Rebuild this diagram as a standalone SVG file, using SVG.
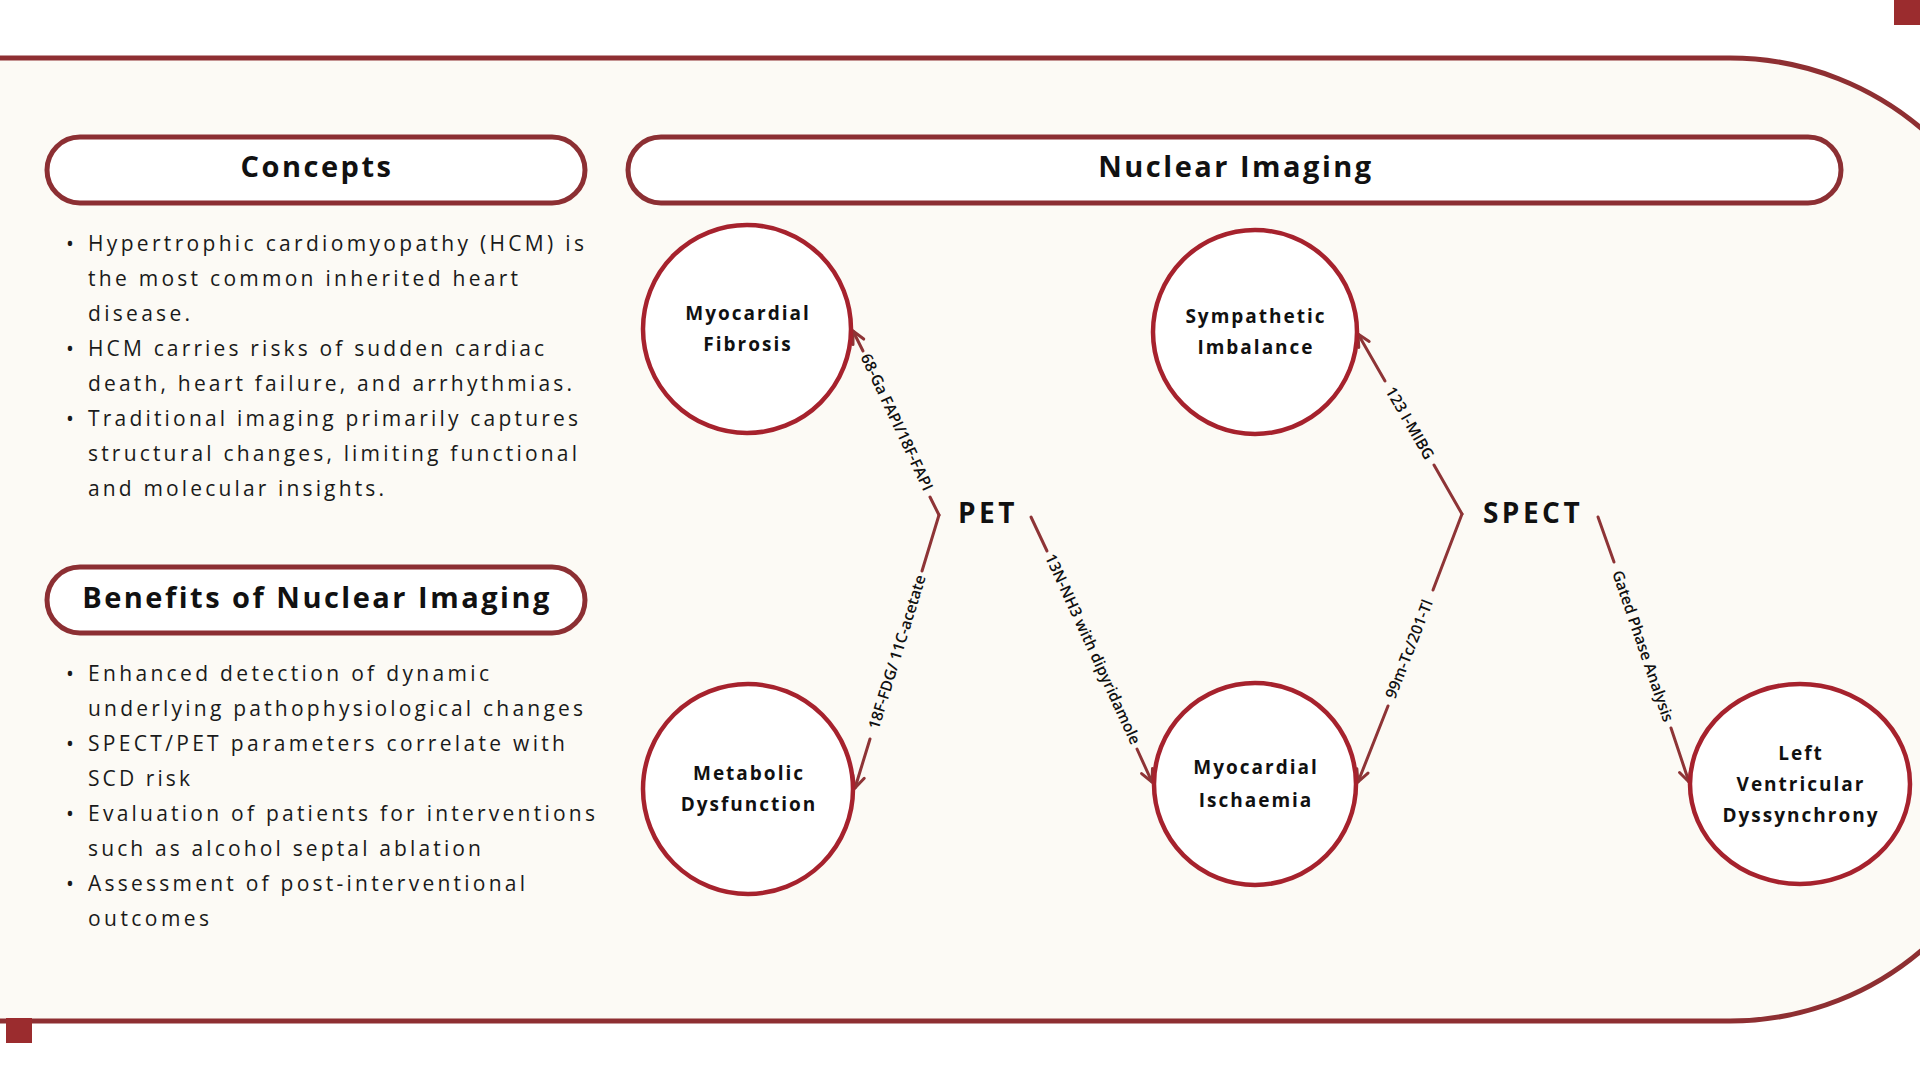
<svg xmlns="http://www.w3.org/2000/svg" width="1920" height="1080" viewBox="0 0 1920 1080">
<style>
.title{font-family:"Open Sans","Liberation Sans",sans-serif;font-weight:700;font-size:29px;letter-spacing:2.5px;fill:#111;text-anchor:middle}
.body{font-family:"Open Sans","Liberation Sans",sans-serif;font-weight:400;font-size:21px;fill:#1a1a1a}
.pill{fill:#ffffff;stroke:#8C2F33;stroke-width:5}
.node{fill:#ffffff;stroke:#A6222D;stroke-width:4.5}
.ntext{font-family:"Open Sans","Liberation Sans",sans-serif;font-weight:700;font-size:19px;letter-spacing:2px;fill:#111;text-anchor:middle}
.hub{font-family:"Open Sans","Liberation Sans",sans-serif;font-weight:700;font-size:28px;letter-spacing:3.5px;fill:#111;text-anchor:middle}
.edge{fill:none;stroke:#8E3436;stroke-width:3;stroke-linecap:round;stroke-linejoin:round}
.elabel{font-family:"Open Sans","Liberation Sans",sans-serif;font-weight:600;font-size:15.5px;fill:#111;text-anchor:middle}
.sq{fill:#9B2C2E}
</style>
<defs>
<marker id="arr" viewBox="0 0 16 16" refX="14" refY="8" markerWidth="16" markerHeight="16" markerUnits="userSpaceOnUse" orient="auto">
<path d="M2,2 L14,8 L2,14" fill="none" stroke="#8E3436" stroke-width="3" stroke-linecap="round" stroke-linejoin="round"/>
</marker>
</defs>
<rect x="0" y="0" width="1920" height="1080" fill="#ffffff"/>
<path d="M-10,58 H1730 A295,295 0 0 1 2025,353 V726 A295,295 0 0 1 1730,1021 H-10 Z" fill="#FCFAF5" stroke="#8E2F32" stroke-width="5"/>
<rect class="sq" x="1894" y="0" width="26" height="25"/>
<rect class="sq" x="6" y="1018" width="26" height="25"/>

<g id="concepts">
<rect class="pill" x="47" y="137" width="538" height="66" rx="33"/>
<text class="title" x="317" y="177">Concepts</text>
<g class="body">
<text x="66" y="251">•</text>
<text x="88" y="251" textLength="496" lengthAdjust="spacing">Hypertrophic cardiomyopathy (HCM) is</text>
<text x="88" y="286" textLength="430" lengthAdjust="spacing">the most common inherited heart</text>
<text x="88" y="321" textLength="102" lengthAdjust="spacing">disease.</text>
<text x="66" y="356">•</text>
<text x="88" y="356" textLength="456" lengthAdjust="spacing">HCM carries risks of sudden cardiac</text>
<text x="88" y="391" textLength="484" lengthAdjust="spacing">death, heart failure, and arrhythmias.</text>
<text x="66" y="426">•</text>
<text x="88" y="426" textLength="490" lengthAdjust="spacing">Traditional imaging primarily captures</text>
<text x="88" y="461" textLength="489" lengthAdjust="spacing">structural changes, limiting functional</text>
<text x="88" y="496" textLength="296" lengthAdjust="spacing">and molecular insights.</text>
</g>
</g>

<g id="benefits">
<rect class="pill" x="47" y="567" width="538" height="66" rx="33"/>
<text class="title" x="317" y="608">Benefits of Nuclear Imaging</text>
<g class="body">
<text x="66" y="681">•</text>
<text x="88" y="681" textLength="401" lengthAdjust="spacing">Enhanced detection of dynamic</text>
<text x="88" y="716" textLength="495" lengthAdjust="spacing">underlying pathophysiological changes</text>
<text x="66" y="751">•</text>
<text x="88" y="751" textLength="477" lengthAdjust="spacing">SPECT/PET parameters correlate with</text>
<text x="88" y="786" textLength="102" lengthAdjust="spacing">SCD risk</text>
<text x="66" y="821">•</text>
<text x="88" y="821" textLength="507" lengthAdjust="spacing">Evaluation of patients for interventions</text>
<text x="88" y="856" textLength="393" lengthAdjust="spacing">such as alcohol septal ablation</text>
<text x="66" y="891">•</text>
<text x="88" y="891" textLength="437" lengthAdjust="spacing">Assessment of post-interventional</text>
<text x="88" y="926" textLength="121" lengthAdjust="spacing">outcomes</text>
</g>
</g>

<g id="nuclear-imaging">
<rect class="pill" x="628" y="137" width="1213" height="66" rx="33"/>
<text class="title" x="1236" y="177">Nuclear Imaging</text>
</g>

<g id="connectors">
<path class="edge" d="M939,515 L930,497"/>
<path class="edge" d="M863,351 L853,331" marker-end="url(#arr)"/>
<path class="edge" d="M939,515 L922,571"/>
<path class="edge" d="M870,739 L855,788" marker-end="url(#arr)"/>
<path class="edge" d="M1031,517 L1047,551"/>
<path class="edge" d="M1137,749 L1152,782" marker-end="url(#arr)"/>
<path class="edge" d="M1462,514 L1434,465"/>
<path class="edge" d="M1385,381 L1358,334" marker-end="url(#arr)"/>
<path class="edge" d="M1462,514 L1433,590"/>
<path class="edge" d="M1388,706 L1358,782" marker-end="url(#arr)"/>
<path class="edge" d="M1598,517 L1614,562"/>
<path class="edge" d="M1671,728 L1689,782" marker-end="url(#arr)"/>
<text class="elabel" transform="translate(897,422) rotate(64.9)" y="5.5">68-Ga FAPI/18F-FAPI</text>
<text class="elabel" transform="translate(897,652) rotate(-72.8)" y="5.5">18F-FDG/ 11C-acetate</text>
<text class="elabel" transform="translate(1093,649) rotate(65.4)" y="5.5">13N-NH3 with dipyridamole</text>
<text class="elabel" transform="translate(1410,423) rotate(60)" y="5.5">123 I-MIBG</text>
<text class="elabel" transform="translate(1409,649) rotate(-68.7)" y="5.5">99m-Tc/201-Tl</text>
<text class="elabel" transform="translate(1643,646) rotate(71)" y="5.5">Gated Phase Analysis</text>
</g>

<g id="pet">
<text class="hub" x="988" y="523">PET</text>
</g>
<g id="spect">
<text class="hub" x="1533" y="523">SPECT</text>
</g>

<g id="myocardial-fibrosis">
<circle class="node" cx="747" cy="329" r="104"/>
<text class="ntext" x="748" y="320">Myocardial</text>
<text class="ntext" x="748" y="351">Fibrosis</text>
</g>
<g id="metabolic-dysfunction">
<circle class="node" cx="748" cy="789" r="105"/>
<text class="ntext" x="749" y="780">Metabolic</text>
<text class="ntext" x="749" y="811">Dysfunction</text>
</g>
<g id="sympathetic-imbalance">
<circle class="node" cx="1255" cy="332" r="102"/>
<text class="ntext" x="1256" y="323">Sympathetic</text>
<text class="ntext" x="1256" y="354">Imbalance</text>
</g>
<g id="myocardial-ischaemia">
<circle class="node" cx="1255" cy="784" r="101"/>
<text class="ntext" x="1256" y="774">Myocardial</text>
<text class="ntext" x="1256" y="807">Ischaemia</text>
</g>
<g id="lv-dyssynchrony">
<ellipse class="node" cx="1800" cy="784" rx="110" ry="100"/>
<text class="ntext" x="1801" y="760">Left</text>
<text class="ntext" x="1801" y="791">Ventricular</text>
<text class="ntext" x="1801" y="822">Dyssynchrony</text>
</g>
</svg>
